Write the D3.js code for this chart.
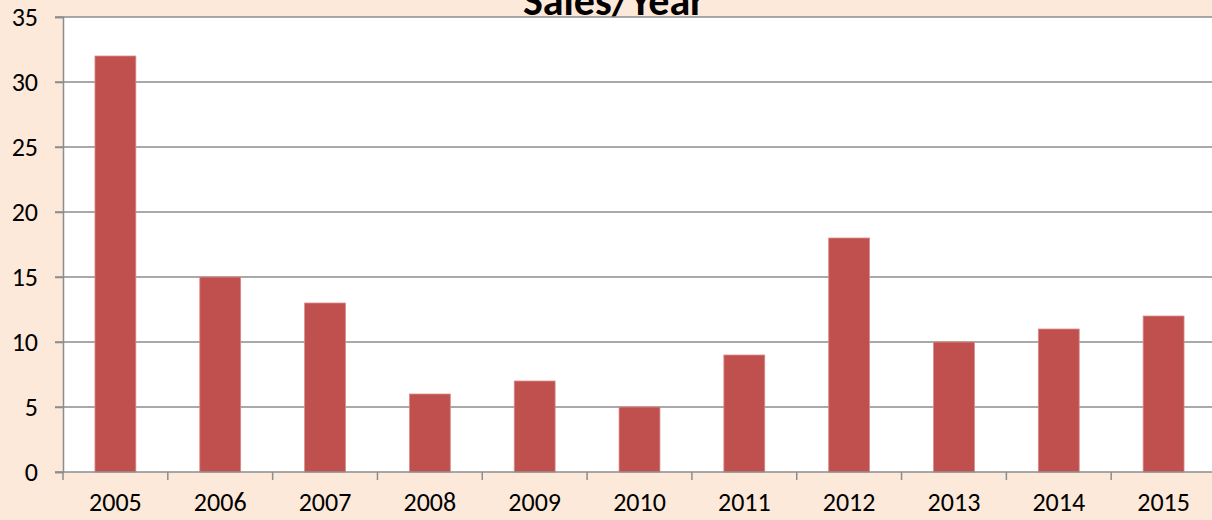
<!DOCTYPE html>
<html lang="en">
<head>
  <meta charset="UTF-8">
  <title>Sales/Year</title>
  <script src="https://d3js.org/d3.v7.min.js"></script>
  <style>
    body { margin: 0; background: #fde9d9; font-family: Carlito, "Open Sans", sans-serif; }
    svg { display: block; }
    svg text { font-family: Carlito, "Open Sans", sans-serif; }
    .tick text { font-size: 26px; fill: #000; }
  </style>
</head>
<body>
  <svg width="1212" height="520"></svg>
  <script>
    const years = ["2005", "2006", "2007", "2008", "2009", "2010", "2011", "2012", "2013", "2014", "2015"];
    const sales = [32, 15, 13, 6, 7, 5, 9, 18, 10, 11, 12];
    const yTicks = [0, 5, 10, 15, 20, 25, 30, 35];

    const svg = d3.select("svg");
    const plotL = 63, plotR = 1216, plotT = 17, plotB = 472;

    const x = d3.scaleBand().domain(years).range([plotL, plotR]).paddingInner(0.61).paddingOuter(0.305);
    const xEdge = d3.scaleLinear().domain([0, years.length]).range([plotL, plotR]);
    const y = d3.scaleLinear().domain([0, 35]).range([plotB, plotT]);

    svg.append("rect")
      .attr("x", plotL).attr("y", plotT)
      .attr("width", plotR - plotL).attr("height", plotB - plotT)
      .attr("fill", "#fff");

    // title sits partly under the top edge, as in the original
    svg.append("text")
      .attr("x", 614).attr("y", 15)
      .attr("text-anchor", "middle")
      .attr("font-size", "42px")
      .attr("font-weight", "bold")
      .text("Sales/Year");

    // gridlines
    svg.append("g")
      .selectAll("line")
      .data(yTicks.slice(1))
      .join("line")
      .attr("x1", plotL - 8).attr("x2", plotR)
      .attr("y1", d => y(d)).attr("y2", d => y(d))
      .attr("stroke", "#8c8c8c").attr("stroke-width", 1.5);

    // bars
    svg.append("g")
      .selectAll("rect")
      .data(years)
      .join("rect")
      .attr("x", d => x(d))
      .attr("width", x.bandwidth())
      .attr("y", (d, i) => y(sales[i]))
      .attr("height", (d, i) => y(0) - y(sales[i]))
      .attr("fill", "#c0504d")
      .attr("stroke", "#d98c8a").attr("stroke-width", 0.8);

    // y axis
    const yAxis = svg.append("g")
      .attr("transform", `translate(${plotL},0)`)
      .call(d3.axisLeft(y).tickValues(yTicks).tickSize(8).tickPadding(17));
    yAxis.select(".domain").attr("stroke", "#8c8c8c").attr("stroke-width", 1.5);
    yAxis.selectAll(".tick line").attr("stroke", "#8c8c8c").attr("stroke-width", 1.5);

    // x axis: baseline with ticks at category edges
    const xAxis = svg.append("g");
    xAxis.append("line")
      .attr("x1", plotL - 8).attr("x2", plotR)
      .attr("y1", plotB).attr("y2", plotB)
      .attr("stroke", "#8c8c8c").attr("stroke-width", 1.5);
    xAxis.selectAll("line.edge")
      .data(d3.range(years.length + 1))
      .join("line")
      .attr("class", "edge")
      .attr("x1", d => xEdge(d)).attr("x2", d => xEdge(d))
      .attr("y1", plotB).attr("y2", plotB + 8)
      .attr("stroke", "#8c8c8c").attr("stroke-width", 1.5);
    xAxis.selectAll("text")
      .data(years)
      .join("text")
      .attr("x", d => x(d) + x.bandwidth() / 2)
      .attr("y", 511)
      .attr("text-anchor", "middle")
      .attr("font-size", "26px")
      .text(d => d);
  </script>
</body>
</html>
